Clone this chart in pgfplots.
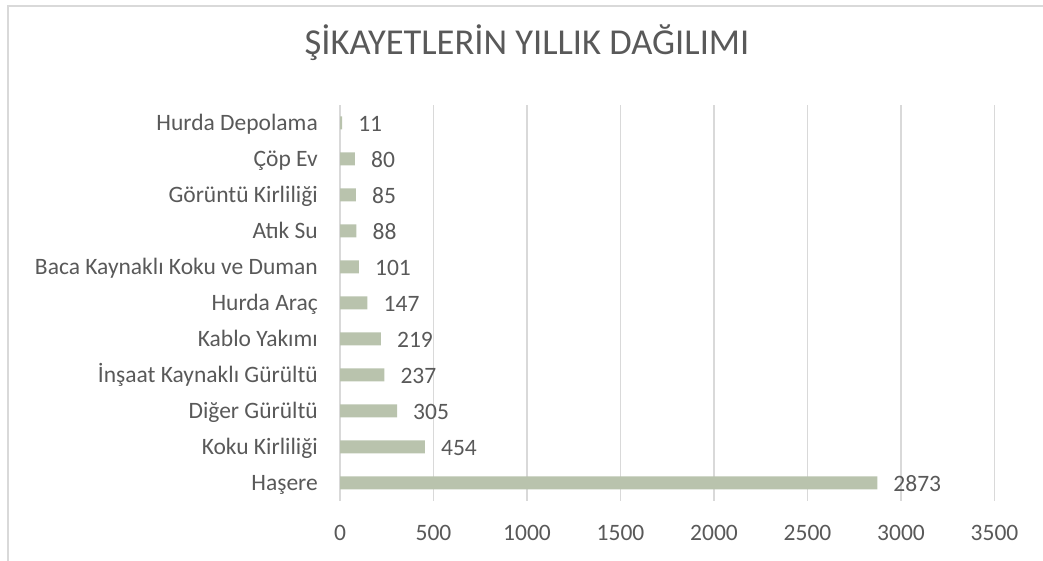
\documentclass[border=0pt]{standalone}
\usepackage{pgfplots}
\pgfplotsset{compat=1.18}
\usepackage{fontspec}
\setmainfont{Carlito}
\definecolor{barc}{RGB}{185,195,173}
\definecolor{gridc}{RGB}{217,217,217}
\definecolor{txt}{RGB}{89,89,89}
\begin{document}
\begin{tikzpicture}[x=1pt,y=1pt]
\useasboundingbox (0,0) rectangle (1043,561);
\draw[gridc, line width=2pt] (8,0) -- (8,555) -- (1043,555);
\node[txt, font=\fontsize{36.5}{42}\selectfont, anchor=base, inner sep=0pt] at (527,506) {ŞİKAYETLERİN YILLIK DAĞILIMI};
\begin{axis}[
  at={(340pt,60pt)}, anchor=south west,
  scale only axis, width=654.5pt, height=396pt,
  xbar, bar width=13pt,
  xmin=0, xmax=3500, ymin=-0.5, ymax=10.5,
  xtick={0,500,...,3500},
  ytick={0,...,10},
  yticklabels={Haşere, Koku Kirliliği, Diğer Gürültü\hspace{5pt}, İnşaat Kaynaklı Gürültü, Kablo Yakımı, Hurda Araç, Baca Kaynaklı Koku ve Duman, Atık Su, Görüntü Kirliliği, Çöp Ev, Hurda Depolama},
  axis line style={draw=none},
  major tick length=0pt,
  xmajorgrids, grid style={gridc, line width=1.3pt},
  /pgf/number format/assume math mode=true,
  /pgf/number format/1000 sep={},
  ticklabel style={font=\fontsize{23.5}{28}\selectfont, text=txt},
  xticklabel style={inner sep=0pt, anchor=north, yshift=-24pt},
  yticklabel style={inner sep=0pt, anchor=east, xshift=-22pt, yshift=-5pt, text height=0.62em, text depth=0.12em},
  nodes near coords,
  nodes near coords style={font=\fontsize{23.5}{28}\selectfont, text=txt, anchor=west, inner sep=0pt, xshift=16pt, yshift=-6pt, text height=0.62em, text depth=0.12em},
]
\addplot[fill=barc, draw=none] coordinates {
(2873,0) (454,1) (305,2) (237,3) (219,4) (147,5) (101,6) (88,7) (85,8) (80,9) (11,10)
};
\end{axis}
\end{tikzpicture}
\end{document}
